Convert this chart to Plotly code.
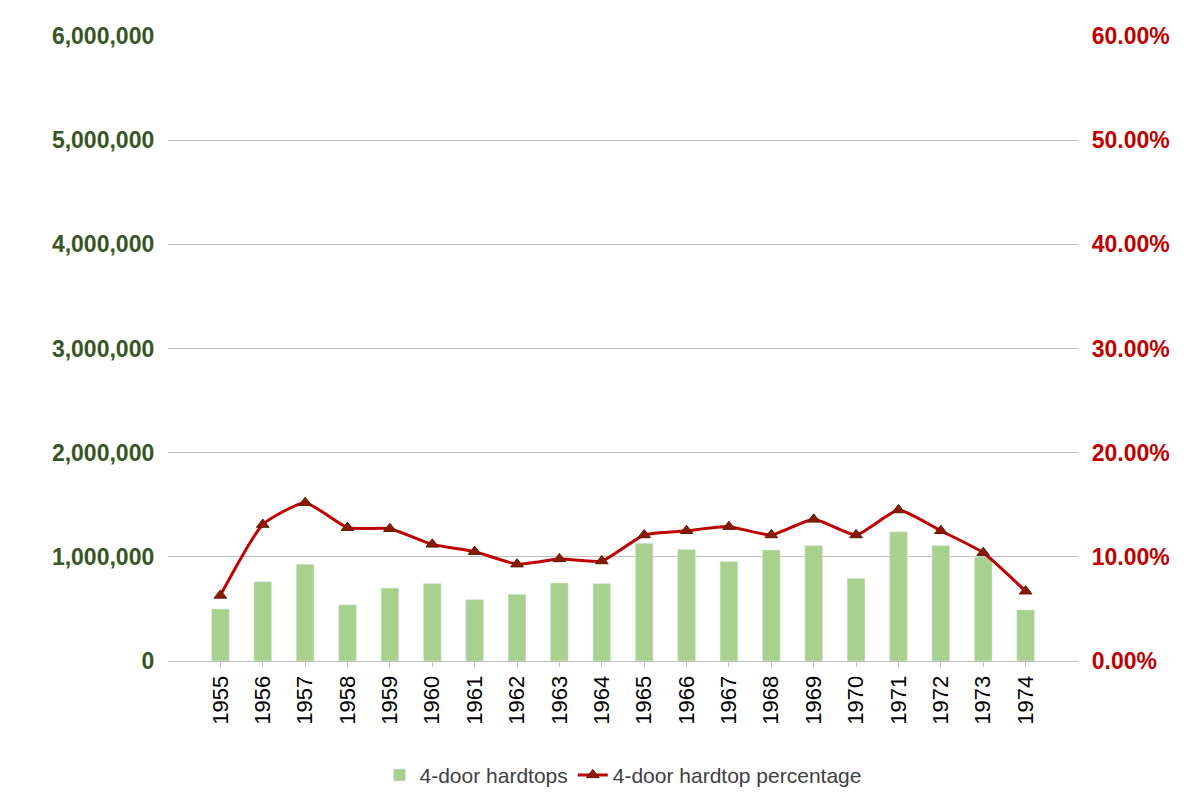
import plotly.graph_objects as go

years = [str(y) for y in range(1955, 1975)]
hardtops = [500000, 760000, 930000, 540000, 700000, 745000, 590000, 640000, 750000, 745000,
            1130000, 1070000, 955000, 1065000, 1110000, 795000, 1240000, 1110000, 1000000, 490000]
pct = [0.063, 0.131, 0.152, 0.128, 0.127, 0.112, 0.105, 0.093, 0.098, 0.096,
       0.121, 0.125, 0.129, 0.121, 0.136, 0.121, 0.145, 0.125, 0.104, 0.067]

green = "#375623"
red = "#C00000"

fig = go.Figure()
fig.add_trace(go.Bar(x=years, y=hardtops, name="4-door hardtops",
                     marker_color="#A9D18E", width=0.42))
fig.add_trace(go.Scatter(x=years, y=pct, name="4-door hardtop percentage", yaxis="y2",
                         mode="lines+markers", line=dict(color=red, width=3, shape="spline", smoothing=0.5),
                         marker=dict(symbol="triangle-up", size=11, color="#8B1A00",
                                     line=dict(color="#5a1a00", width=1))))

fig.update_layout(
    width=1200, height=800, plot_bgcolor="white", paper_bgcolor="white",
    margin=dict(l=160, r=130, t=28, b=139),
    font=dict(family="Liberation Sans, sans-serif", size=20),
    xaxis=dict(tickangle=-90, showline=True, linecolor="#bfbfbf", ticks="outside",
               tickcolor="#bfbfbf", tickfont=dict(color="black", size=22)),
    yaxis=dict(range=[0, 6000000], dtick=1000000, tickformat=",d", gridcolor="#bfbfbf",
               tickfont=dict(color=green, size=23, family="Liberation Sans", weight="bold"),
               ticksuffix="  ", zeroline=False),
    yaxis2=dict(range=[0, 0.6], dtick=0.1, tickformat=".2%", overlaying="y", side="right",
                showgrid=False, tickfont=dict(color=red, size=23, family="Liberation Sans", weight="bold"),
                tickprefix="  ", zeroline=False),
    legend=dict(orientation="h", x=0.5, xanchor="center", y=-0.15, yanchor="top",
                font=dict(size=21, color="#404040")),
)
fig.write_html("out.html")
